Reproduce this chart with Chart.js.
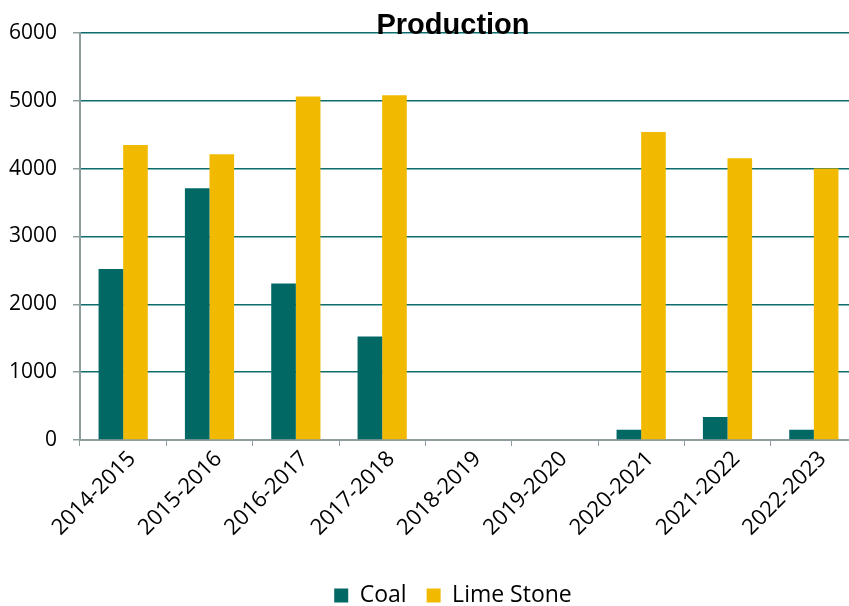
<!DOCTYPE html>
<html lang="en">
<head>
    <meta charset="UTF-8">
    <title>Production</title>
    <script src="https://cdn.jsdelivr.net/npm/chart.js"></script>
    <style>
        body {
            margin: 0;
            width: 849px;
            height: 606px;
            overflow: hidden;
            background: #ffffff;
        }

        .chart-box {
            width: 906px;
            height: 617px;
        }
    </style>
</head>
<body>
    <div class="chart-box">
        <canvas id="productionChart" width="906" height="617"></canvas>
    </div>

    <script>
        // values
        const years = ['2014-2015', '2015-2016', '2016-2017', '2017-2018', '2018-2019',
            '2019-2020', '2020-2021', '2021-2022', '2022-2023'];
        const coal = [2520, 3710, 2305, 1525, 0, 0, 150, 340, 150];
        const limeStone = [4345, 4210, 5060, 5080, 0, 0, 4540, 4150, 4000];
        const yTicks = [0, 1000, 2000, 3000, 4000, 5000, 6000];

        const openSans = '"Open Sans", sans-serif';
        const axisGrey = '#8e9e9e';

        const ctx = document.getElementById('productionChart').getContext('2d');
        const productionChart = new Chart(ctx, {
            type: 'bar',
            data: {
                labels: years,
                datasets: [{
                    label: 'Coal',
                    data: coal,
                    backgroundColor: '#026864',
                    borderWidth: 0,
                    categoryPercentage: 0.57,
                    barPercentage: 1.0
                }, {
                    label: 'Lime Stone',
                    data: limeStone,
                    backgroundColor: '#f1b900',
                    borderWidth: 0,
                    categoryPercentage: 0.57,
                    barPercentage: 1.0
                }]
            },
            options: {
                responsive: false,
                animation: false,
                layout: {
                    padding: 0
                },
                plugins: {
                    title: {
                        display: true,
                        text: 'Production',
                        color: '#000000',
                        font: { family: '"Liberation Sans", Arial, sans-serif', size: 29, weight: 'bold' },
                        padding: { top: 9, bottom: -11 }
                    },
                    legend: {
                        position: 'bottom',
                        labels: {
                            color: '#000000',
                            font: { family: openSans, size: 23 },
                            boxWidth: 14,
                            boxHeight: 14,
                            padding: 20
                        }
                    },
                    tooltip: { enabled: false }
                },
                scales: {
                    x: {
                        grid: {
                            drawOnChartArea: false,
                            drawTicks: true,
                            tickLength: 6,
                            tickColor: axisGrey
                        },
                        border: { color: axisGrey, width: 2 },
                        ticks: {
                            color: '#000000',
                            font: { family: openSans, size: 22 },
                            minRotation: 45,
                            maxRotation: 45,
                            padding: 0,
                            labelOffset: 9
                        },
                        afterFit: function (scale) {
                            scale.height = 124;
                        }
                    },
                    y: {
                        min: 0,
                        max: 6000,
                        afterBuildTicks: function (scale) {
                            scale.ticks = yTicks.map(v => ({ value: v }));
                        },
                        grid: {
                            color: '#0d6d6b',
                            lineWidth: 1.5,
                            tickLength: 7,
                            tickColor: axisGrey
                        },
                        border: { color: axisGrey, width: 2 },
                        ticks: {
                            color: '#000000',
                            font: { family: openSans, size: 21 },
                            padding: 16,
                            callback: value => String(value)
                        },
                        afterFit: function (scale) {
                            scale.width = 80;
                        }
                    },
                    // empty right-hand box so the plot runs past the page edge
                    yRight: {
                        position: 'right',
                        grid: { display: false },
                        border: { display: false },
                        ticks: { display: false },
                        afterFit: function (scale) {
                            scale.width = 49;
                        }
                    }
                }
            }
        });
    </script>
</body>
</html>
